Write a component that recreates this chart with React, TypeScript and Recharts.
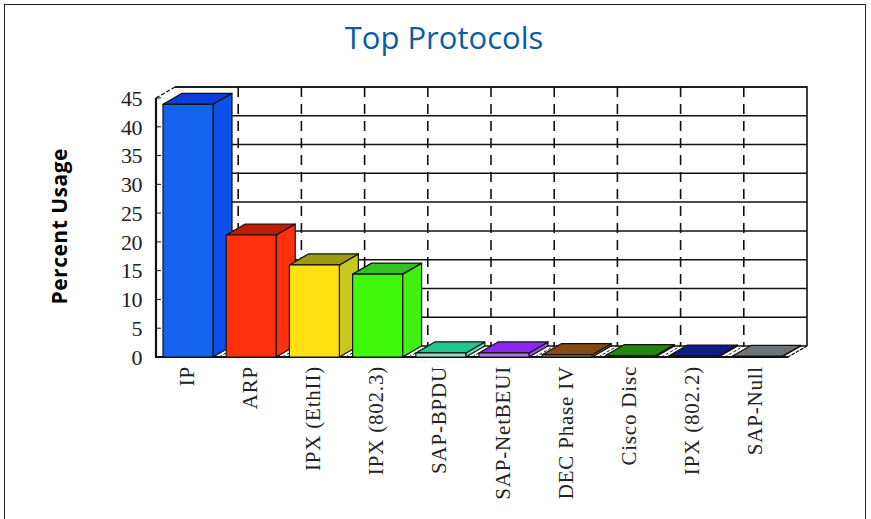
import { BarChart, Bar, XAxis, YAxis, CartesianGrid, usePlotArea } from 'recharts';

const categories = ['IP', 'ARP', 'IPX (EthII)', 'IPX (802.3)', 'SAP-BPDU', 'SAP-NetBEUI', 'DEC Phase IV', 'Cisco Disc', 'IPX (802.2)', 'SAP-Null'];
const usage = [43.9, 21.2, 16, 14.4, 0.7, 0.7, 0.4, 0.25, 0.15, 0.1];
const yTicks = [0, 5, 10, 15, 20, 25, 30, 35, 40, 45];

const frontColors = ['#1463ee', '#ff300e', '#ffe010', '#40f80a', '#8fe0c0', '#b070e0', '#a86a30', '#1c7a10', '#10208a', '#6c7478'];
const topColors = ['#0a3ed8', '#c01c00', '#a09a10', '#30c422', '#20c890', '#8828f0', '#844a14', '#24860f', '#0e1c88', '#6c7478'];
const sideColors = ['#0c50e8', '#ff300e', '#c8c820', '#40f010', '#70e0b0', '#9a50e8', '#a06030', '#1c7a10', '#10208a', '#6c7478'];

const data = categories.map((name, i) => ({ name, usage: usage[i] }));

// how far the back wall sits from the front of the chart
const DX = 19;
const DY = -11;

const Box = ({ x, y, width, height, index }: any) => {
    const line = { stroke: '#111', strokeWidth: 1.2, strokeLinejoin: 'round' as const };
    return (
        <g>
            <path d={`M${x + width},${y} l${DX},${DY} v${height} l${-DX},${-DY} z`} fill={sideColors[index]} {...line} />
            <path d={`M${x},${y} l${DX},${DY} h${width} l${-DX},${-DY} z`} fill={topColors[index]} {...line} />
            <rect x={x} y={y} width={width} height={height} fill={frontColors[index]} {...line} />
        </g>
    );
};

const Walls = () => {
    const p = usePlotArea();
    if (!p) return null;
    const right = p.x + p.width;
    const bottom = p.y + p.height;
    return (
        <g fill='none' stroke='#111'>
            <path d={`M${p.x + DX},${p.y + DY} H${right + DX} V${bottom + DY}`} strokeWidth={1.6} />
            <path d={`M${right + DX},${bottom + DY} L${right},${bottom}`} strokeWidth={1.4} strokeDasharray='3 2' />
            <path d={`M${p.x},${p.y} L${p.x + DX},${p.y + DY}`} strokeWidth={1.4} strokeDasharray='4 2' />
            <path d={`M${p.x},${p.y} V${bottom} H${right}`} strokeWidth={2.2} />
        </g>
    );
};

const hLine = ({ x1, x2, y1 }: any) => (
    <g key={`h-${y1}`}>
        <line x1={x1 + DX} x2={x2 + DX} y1={y1 + DY} y2={y1 + DY} stroke='#111' strokeWidth={1.5} />
        <line x1={x1} x2={x1 + 5} y1={y1} y2={y1} stroke='#111' />
    </g>
);

const vLine = ({ x, x1, y1, y2, width, index }: any) => {
    // the grid also hands over the two edges of the plot
    if (x1 <= x + 1 || x1 >= x + width - 1) return <g key={`v-${index}`} />;
    const band = width / categories.length;
    const bx = x1 + band / 2;
    return (
        <g key={`v-${index}`}>
            {bx < x + width - 1 && (
                <line x1={bx + DX} x2={bx + DX} y1={y1 + DY} y2={y2 + DY} stroke='#111' strokeWidth={1.6} strokeDasharray='10 7' />
            )}
            <line x1={bx} x2={bx + DX} y1={y2} y2={y2 + DY} stroke='#111' strokeDasharray='3 2' />
        </g>
    );
};

const XTick = ({ x, y, payload }: any) => (
    <text
        transform={`translate(${x + 6},${y - 7}) rotate(-90)`}
        textAnchor='end'
        fontFamily='Liberation Serif'
        fontSize={21}
        letterSpacing={0.8}
        fill='#222'
    >
        {payload.value}
    </text>
);

const App = () => {
    return (
        <div style={{ position: 'absolute', left: 0, top: 0, width: 871, height: 519, overflow: 'hidden', background: '#fff' }}>
            <div
                style={{
                    position: 'absolute',
                    left: 4,
                    top: 4,
                    width: 862,
                    height: 530,
                    border: '1.5px solid #222',
                    boxSizing: 'border-box',
                }}
            />
            <div
                style={{
                    position: 'absolute',
                    left: 0,
                    width: 888,
                    top: 16,
                    textAlign: 'center',
                    fontFamily: 'Open Sans',
                    fontSize: 31,
                    color: '#0b5ca6',
                }}
            >
                Top Protocols
            </div>
            <BarChart
                width={871}
                height={519}
                data={data}
                barSize={50}
                margin={{ top: 98, right: 83, left: 46, bottom: 0 }}
                style={{ position: 'absolute', left: 0, top: 0 }}
            >
                <Walls />
                <CartesianGrid horizontal={hLine} vertical={vLine} />
                <XAxis
                    dataKey='name'
                    interval={0}
                    height={162}
                    axisLine={false}
                    tickLine={false}
                    tick={<XTick />}
                    tickMargin={10}
                />
                <YAxis
                    domain={[0, 45]}
                    ticks={yTicks}
                    interval={0}
                    width={110}
                    axisLine={false}
                    tickLine={false}
                    tickMargin={8}
                    tick={{ fontFamily: 'Liberation Serif', fontSize: 22, fill: '#222', letterSpacing: -0.5 }}
                    label={{
                        value: 'Percent Usage',
                        angle: -90,
                        position: 'insideLeft',
                        offset: 14,
                        dy: 77,
                        style: { fontFamily: 'Open Sans', fontWeight: 700, fontSize: 21, letterSpacing: 0.5, fill: '#000' },
                    }}
                />
                <Bar dataKey='usage' shape={<Box />} isAnimationActive={false} />
            </BarChart>
        </div>
    );
};

export default App;
